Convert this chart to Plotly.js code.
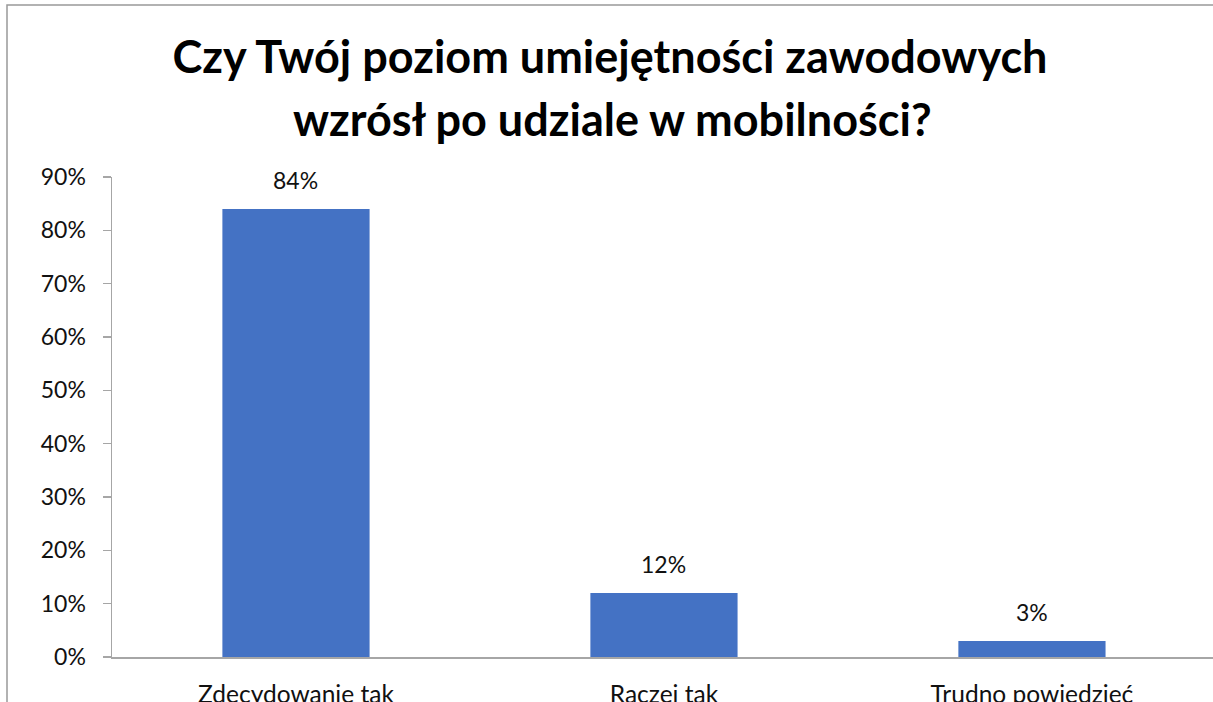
<!DOCTYPE html>
<html>
<head>
<meta charset="utf-8">
<script src="https://cdn.plot.ly/plotly-3.0.1.min.js"></script>
<style>html,body{margin:0;padding:0;background:#fff}#chart{width:1213px;height:702px}</style>
</head>
<body>
<div id="chart"></div>
<script>
const categories = ["Zdecydowanie tak", "Raczej tak", "Trudno powiedzieć"];
const values = [0.84, 0.12, 0.03];
const valueLabels = ["84%", "12%", "3%"];
const yTickValues = [0, 0.1, 0.2, 0.3, 0.4, 0.5, 0.6, 0.7, 0.8, 0.9];
const titleLine1 = "Czy Twój poziom umiejętności zawodowych";
const titleLine2 = "wzrósł po udziale w mobilności?";

const FONT = "Lato, Open Sans, sans-serif";
const TXT = "#111";
const trace = {
  type: "bar",
  x: categories,
  y: values,
  width: 0.4,
  marker: {color: "#4472C4"},
  hoverinfo: "skip"
};
const annotations = categories.map((c, i) => ({
  x: c, y: values[i], xref: "x", yref: "y",
  text: valueLabels[i], showarrow: false,
  yanchor: "bottom", yshift: 13,
  font: {family: FONT, size: 23, color: TXT}
}));
annotations.push({
  text: titleLine2, showarrow: false,
  xref: "paper", x: (612 - 112) / 1101, xanchor: "center",
  yref: "paper", y: (657 - 119) / 480, yanchor: "middle",
  font: {family: FONT, size: 45, color: "#000", weight: "bold"}
});
const layout = {
  width: 1213, height: 702,
  margin: {l: 112, r: 0, t: 177, b: 45},
  paper_bgcolor: "#fff", plot_bgcolor: "#fff",
  showlegend: false,
  title: {
    text: titleLine1,
    x: 610 / 1213, xref: "container", xanchor: "center",
    y: 1 - 57 / 702, yanchor: "middle", yref: "container",
    font: {family: FONT, size: 45, color: "#000", weight: "bold"}
  },
  xaxis: {
    type: "category",
    range: [-0.5, 2.492],
    showline: true, linecolor: "#a6a6a6", linewidth: 1.5,
    ticks: "", ticklabelstandoff: 15,
    showgrid: false, zeroline: false,
    tickfont: {family: FONT, size: 24.5, color: TXT}
  },
  yaxis: {
    range: [0, 0.9],
    tickvals: yTickValues,
    tickformat: ".0%",
    showline: true, linecolor: "#a6a6a6", linewidth: 1.5,
    ticks: "outside", ticklen: 8, tickcolor: "#a6a6a6", tickwidth: 1.5,
    ticklabelstandoff: 12,
    showgrid: false, zeroline: false,
    tickfont: {family: FONT, size: 23, color: TXT}
  },
  annotations: annotations,
  shapes: [
    {type: "line", xref: "paper", yref: "paper", x0: (104 - 112) / 1101, x1: 0, y0: 0, y1: 0,
     line: {color: "#a6a6a6", width: 1.5}},
    {type: "rect", xref: "paper", yref: "paper", x0: (7 - 112) / 1101, x1: 1.02,
     y0: -0.2, y1: (657 - 5) / 480, line: {color: "#999", width: 1.5}, fillcolor: "rgba(0,0,0,0)", layer: "below"}
  ]
};
Plotly.newPlot("chart", [trace], layout, {displayModeBar: false, staticPlot: true});
</script>
</body>
</html>
